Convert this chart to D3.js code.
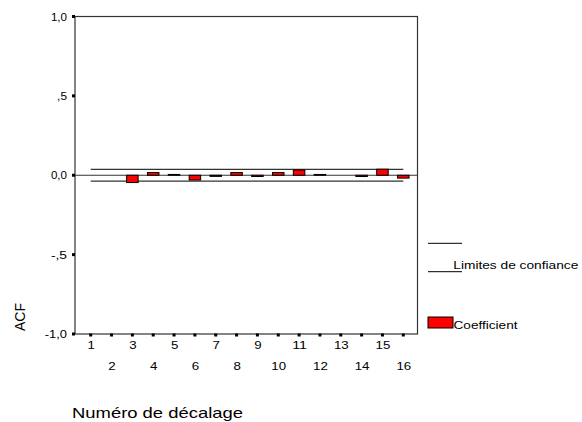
<!DOCTYPE html>
<html>
<head>
<meta charset="utf-8">
<title>ACF</title>
<script src="https://cdn.jsdelivr.net/npm/d3@7"></script>
<style>
	body { margin: 0; background: #fff; }
	text { font-family: "Liberation Sans", Arial, sans-serif; fill: #000; }
</style>
</head>
<body>
<div id="vis"></div>
<script type="text/javascript">
// values
var lags = [1, 2, 3, 4, 5, 6, 7, 8, 9, 10, 11, 12, 13, 14, 15, 16];
var acf = [0.000, 0.000, -0.046, 0.017, 0.005, -0.030, -0.007, 0.017, -0.008, 0.017, 0.033, 0.005, 0.000, -0.008, 0.038, -0.018];
var confUpper = 0.037;
var confLower = -0.037;
var yTicks = [-1, -0.5, 0, 0.5, 1];
var yTickLabels = ["-1,0", "-,5", "0,0", ",5", "1,0"];

const COLOR_LINE = "#333333";
const COLOR_BAR = "#ff0000";

var W = 582, H = 422;
var frame = { left: 75, top: 16.5, right: 417.5, bottom: 334 };

var svg = d3.select("#vis").append("svg").attr("width", W).attr("height", H);

var y = d3.scaleLinear().domain([-1, 1]).range([frame.bottom, frame.top]);
var x = d3.scalePoint().domain(lags).range([90.7, 403.3]);
var barW = 11.5;

// frame
svg.append("rect")
	.attr("x", frame.left).attr("y", frame.top)
	.attr("width", frame.right - frame.left).attr("height", frame.bottom - frame.top)
	.attr("fill", "none").attr("stroke", COLOR_LINE).attr("stroke-width", 1.2);

// y axis labels
var yAxis = d3.axisLeft(y).tickValues(yTicks).tickSize(0).tickPadding(8)
	.tickFormat(function(d, i) { return yTickLabels[i]; });
var gy = svg.append("g").attr("transform", "translate(" + frame.left + ",0)").call(yAxis);
gy.select(".domain").remove();
gy.selectAll("text").attr("font-size", 11).attr("font-family", "Liberation Sans")
	.each(function() {
		var t = d3.select(this);
		t.attr("textLength", t.text().length * 6.2 + (t.text().indexOf(",") >= 0 ? -2.5 : 0)).attr("lengthAdjust", "spacingAndGlyphs");
	});
svg.selectAll(".ytick").data(yTicks).enter().append("rect")
	.attr("x", frame.left - 3).attr("y", function(d) { return y(d) - 1.5; })
	.attr("width", 3).attr("height", 3).attr("fill", "#000");

// x axis labels, odd on one row, even on the next
var xAxis = d3.axisBottom(x).tickSize(0).tickPadding(7);
var gx = svg.append("g").attr("transform", "translate(0," + frame.bottom + ")").call(xAxis);
gx.select(".domain").remove();
gx.selectAll("text").attr("font-size", 11).attr("font-family", "Liberation Sans")
	.attr("dy", function(d) { return d % 2 === 0 ? "2.65em" : "0.71em"; })
	.each(function(d) {
		d3.select(this).attr("textLength", String(d).length * 7.4).attr("lengthAdjust", "spacingAndGlyphs");
	});
svg.selectAll(".xtick").data(lags).enter().append("rect")
	.attr("x", function(d) { return x(d) - 1.5; }).attr("y", frame.bottom - 0.5)
	.attr("width", 3).attr("height", 3).attr("fill", "#000");

// zero line
svg.append("line")
	.attr("x1", frame.left).attr("x2", frame.right)
	.attr("y1", y(0)).attr("y2", y(0))
	.attr("stroke", COLOR_LINE).attr("stroke-width", 1.2);

// confidence limits
svg.selectAll(".conf").data([confUpper, confLower]).enter().append("line")
	.attr("x1", x(lags[0])).attr("x2", x(lags[lags.length - 1]))
	.attr("y1", function(d) { return y(d); }).attr("y2", function(d) { return y(d); })
	.attr("stroke", COLOR_LINE).attr("stroke-width", 1.2);

// bars (zero-height ones hide under the zero line)
svg.selectAll(".bar").data(acf).enter().append("rect")
	.attr("x", function(d, i) { return x(lags[i]) - barW / 2; })
	.attr("y", function(d) { return Math.min(y(d), y(0)); })
	.attr("width", barW)
	.attr("height", function(d) { return Math.abs(y(d) - y(0)); })
	.attr("fill", COLOR_BAR)
	.attr("stroke", function(d) { return d === 0 ? "none" : "#000"; })
	.attr("stroke-width", 1);

// legend
var legX = 428;
svg.selectAll(".legline").data([243.3, 271.7]).enter().append("line")
	.attr("x1", legX).attr("x2", 462)
	.attr("y1", function(d) { return d; }).attr("y2", function(d) { return d; })
	.attr("stroke", "#000").attr("stroke-width", 1);
svg.append("text").attr("x", 453.3).attr("y", 269)
	.attr("font-size", 11.5).attr("textLength", 125).attr("lengthAdjust", "spacingAndGlyphs")
	.text("Limites de confiance");
svg.append("rect").attr("x", legX).attr("y", 317).attr("width", 25).attr("height", 11)
	.attr("fill", COLOR_BAR).attr("stroke", "#000").attr("stroke-width", 1);
svg.append("text").attr("x", 453.5).attr("y", 329)
	.attr("font-size", 11.5).attr("textLength", 64).attr("lengthAdjust", "spacingAndGlyphs")
	.text("Coefficient");

// axis titles
svg.append("text").attr("transform", "translate(25,317) rotate(-90)")
	.attr("text-anchor", "middle").attr("font-size", 14)
	.text("ACF");
svg.append("text").attr("x", 72).attr("y", 418.3)
	.attr("font-size", 15).attr("textLength", 171).attr("lengthAdjust", "spacingAndGlyphs")
	.text("Numéro de décalage");
</script>
</body>
</html>
